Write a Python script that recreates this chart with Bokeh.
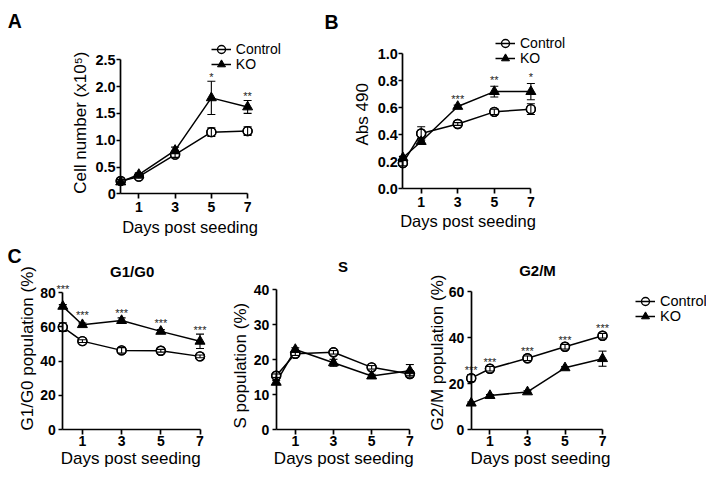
import math
from bokeh.plotting import figure
from bokeh.models import (Range1d, FixedTicker, ColumnDataSource, Whisker, TeeHead,
                          Legend, LegendItem, Label)
from bokeh.layouts import row, column
from bokeh.core.properties import value
from bokeh.embed import file_html
from bokeh.resources import INLINE

FONT = "Liberation Sans"

# ---------------- data ----------------
days = [0, 1, 3, 5, 7]
x_ticks = [1, 3, 5, 7]
x_label = "Days post seeding"
legend_labels = ["Control", "KO"]

# Panel A : cell number (x10^5)
a_ctrl = [0.24, 0.32, 0.73, 1.15, 1.17]
a_ctrl_err = [0.03, 0.03, 0.05, 0.08, 0.08]
a_ko = [0.22, 0.36, 0.81, 1.79, 1.62]
a_ko_err = [0.02, 0.03, 0.06, 0.31, 0.12]
a_stars = ["", "", "", "*", "**"]
a_star_y = [0, 0, 0, 2.2, 1.84]
a_yticks = [0, 0.5, 1, 1.5, 2, 2.5]
a_ylabels = ["0", "0.5", "1.0", "1.5", "2.0", "2.5"]
a_ytitle = "Cell number (x10\u2075)"

# Panel B : Abs 490
b_ctrl = [0.19, 0.41, 0.48, 0.57, 0.59]
b_ctrl_err = [0.02, 0.05, 0.01, 0.02, 0.04]
b_ko = [0.23, 0.35, 0.61, 0.72, 0.72]
b_ko_err = [0.01, 0.02, 0.01, 0.04, 0.06]
b_stars = ["", "", "***", "**", "*"]
b_star_y = [0, 0, 0.676, 0.815, 0.834]
b_yticks = [0, 0.2, 0.4, 0.6, 0.8, 1.0]
b_ylabels = ["0.0", "0.2", "0.4", "0.6", "0.8", "1.0"]
b_ytitle = "Abs 490"

# Panel C1 : G1/G0
g1_ctrl = [59.8, 51.6, 46.2, 46.0, 42.7]
g1_ctrl_err = [2.5, 0.8, 1.6, 0.8, 0.8]
g1_ko = [71.9, 61.2, 63.6, 57.3, 51.5]
g1_ko_err = [1.0, 1.0, 1.6, 1.0, 4.2]
g1_stars = ["***", "***", "***", "***", "***"]
g1_star_y = [82.9, 67.7, 68.9, 62.7, 58.8]
g1_yticks = [0, 20, 40, 60, 80]
g1_ylabels = ["0", "20", "40", "60", "80"]
g1_ytitle = "G1/G0 population (%)"
g1_head = "G1/G0"

# Panel C2 : S
s_ctrl = [15.4, 21.7, 22.1, 17.8, 15.9]
s_ctrl_err = [0.5, 0.5, 0.5, 0.5, 0.5]
s_ko = [13.5, 22.9, 19.1, 15.3, 16.8]
s_ko_err = [0.5, 0.5, 1.0, 0.5, 1.8]
s_stars = ["", "", "", "", ""]
s_star_y = [0, 0, 0, 0, 0]
s_yticks = [0, 10, 20, 30, 40]
s_ylabels = ["0", "10", "20", "30", "40"]
s_ytitle = "S population (%)"
s_head = "S"

# Panel C3 : G2/M
g2_ctrl = [22.4, 26.5, 31.1, 36.1, 40.9]
g2_ctrl_err = [1.5, 1.0, 1.0, 1.0, 1.0]
g2_ko = [11.5, 14.8, 16.4, 26.9, 30.9]
g2_ko_err = [0.5, 0.5, 0.5, 0.5, 3.3]
g2_stars = ["***", "***", "***", "***", "***"]
g2_star_y = [26.5, 30.1, 34.9, 39.6, 44.6]
g2_yticks = [0, 20, 40, 60]
g2_ylabels = ["0", "20", "40", "60"]
g2_ytitle = "G2/M population (%)"
g2_head = "G2/M"


class Panel:
    """geo: canvas left, canvas top, width, height (page px), axis origin (px), px/day, px/unit"""

    def __init__(self, geo, sty):
        cl, ct, w, h, ax, ay, ppd, ppu = geo
        self.cl, self.ct, self.w, self.h = cl, ct, w, h
        x0 = -(ax - cl) / ppd
        y0 = -(ct + h - ay) / ppu
        self.sty = sty
        p = figure(frame_width=w, frame_height=h, min_border=0,
                   min_border_left=0, min_border_right=0, min_border_top=0, min_border_bottom=0,
                   x_range=Range1d(x0, x0 + w / ppd), y_range=Range1d(y0, y0 + h / ppu),
                   toolbar_location=None, output_backend="svg", title=None)
        p.xgrid.visible = False
        p.ygrid.visible = False
        p.outline_line_color = None
        p.background_fill_color = "white"
        p.border_fill_color = "white"
        self.p = p

    def sx(self, px):
        return px - self.cl

    def sy(self, py):
        return self.ct + self.h - py

    def label(self, text, px, py, size, bold=False, align="left", baseline="alphabetic", angle=0.0):
        self.p.add_layout(Label(x=self.sx(px), y=self.sy(py), x_units="screen", y_units="screen",
                                text=text, angle=angle, text_font=FONT, text_font_size=size,
                                text_font_style="bold" if bold else "normal",
                                text_align=align, text_baseline=baseline, text_color="black"))

    def draw(self, ctrl, ctrl_err, ko, ko_err, stars, star_y, yticks, ylabels):
        p, sty = self.p, self.sty
        xa = p.xaxis[0]
        xa.ticker = FixedTicker(ticks=x_ticks)
        xa.bounds = (0, 7)
        xa.fixed_location = 0
        ya = p.yaxis[0]
        ya.ticker = FixedTicker(ticks=yticks)
        ya.bounds = (0, yticks[-1])
        ya.fixed_location = 0
        ya.major_label_overrides = {t: l for t, l in zip(yticks, ylabels)}
        for ax in (xa, ya):
            ax.axis_line_width = 1.7
            ax.axis_line_color = "black"
            ax.major_tick_line_width = 1.7
            ax.major_tick_line_color = "black"
            ax.major_tick_in = 0
            ax.minor_tick_out = 0
            ax.minor_tick_in = 0
            ax.major_label_text_font = FONT
            ax.major_label_text_font_style = "bold"
            ax.major_label_text_color = "black"
        xa.major_tick_out = 5
        ya.major_tick_out = 4
        xa.major_label_text_font_size = sty["xtick"]
        ya.major_label_text_font_size = sty["ytick"]
        xa.major_label_standoff = sty["xls"]
        ya.major_label_standoff = sty["yls"]

        src = ColumnDataSource(dict(
            x=days, c=ctrl, k=ko,
            cl=[v - e for v, e in zip(ctrl, ctrl_err)], cu=[v + e for v, e in zip(ctrl, ctrl_err)],
            kl=[v - e for v, e in zip(ko, ko_err)], ku=[v + e for v, e in zip(ko, ko_err)],
            sy=star_y, st=stars))

        lc = p.line("x", "c", source=src, line_width=1.5, line_color="black")
        lk = p.line("x", "k", source=src, line_width=1.5, line_color="black")
        p.scatter("x", "c", source=src, marker="circle", size=9, fill_color="white",
                  line_color="black", line_width=1.4)
        sk = p.scatter("x", "k", source=src, marker="triangle", size=10, fill_color="black",
                       line_color="black", line_width=1)
        # same open circles again, unfilled, so the legend shows the line through the circle
        lcirc = p.scatter("x", "c", source=src, marker="circle", size=9, fill_color=None,
                          line_color="black", line_width=1.4)
        for lo, up in (("cl", "cu"), ("kl", "ku")):
            w = Whisker(source=src, base="x", lower=lo, upper=up, dimension="height",
                        line_color="black", line_width=1.1, level="overlay",
                        upper_head=TeeHead(size=8, line_color="black", line_width=1.1),
                        lower_head=TeeHead(size=8, line_color="black", line_width=1.1))
            p.add_layout(w)
        p.text("x", "sy", text="st", source=src, text_align="center", text_baseline="middle",
               y_offset=1, text_font=value(FONT), text_font_size="11px", text_color="#222222")
        self.rc = (lc, lcirc)
        self.rk = (lk, sk)

    def legends(self, gx, gy1, gy2, fs):
        # gx: left of glyph box, gy*: bottom of each row (page px)
        for lab, rends, gy in ((legend_labels[0], self.rc, gy1), (legend_labels[1], self.rk, gy2)):
            leg = Legend(items=[LegendItem(label=lab, renderers=list(rends))],
                         location=(self.sx(gx), self.sy(gy)),
                         glyph_width=20, glyph_height=20, label_height=20, label_standoff=5,
                         padding=0, margin=0, spacing=0, border_line_color=None,
                         background_fill_alpha=0, label_text_font=FONT,
                         label_text_font_size=fs, label_text_color="black",
                         label_text_baseline="middle")
            self.p.add_layout(leg, "center")


top = dict(xtick="14px", ytick="14.5px", xls=3, yls=1)
bot = dict(xtick="14px", ytick="14px", xls=1, yls=3)

# ---- A ----
A = Panel((0, 0, 320, 236, 120.2, 193.3, 18.13, 53.6), top)
A.draw(a_ctrl, a_ctrl_err, a_ko, a_ko_err, a_stars, a_star_y, a_yticks, a_ylabels)
A.legends(210.8, 59, 74, "14px")
A.label("A", 7.3, 20.7, "19.5px", bold=True)
A.label(a_ytitle, 80, 193.3, "17px", baseline="middle", angle=math.pi / 2)
A.label(x_label, 189.5, 226, "16.5px", align="center")

# ---- B ----
B = Panel((320, 0, 263, 236, 402.4, 188.3, 18.28, 135.0), top)
B.draw(b_ctrl, b_ctrl_err, b_ko, b_ko_err, b_stars, b_star_y, b_yticks, b_ylabels)
B.legends(495, 53.3, 68.3, "14px")
B.label("B", 324, 21.7, "19.5px", bold=True)
B.label(b_ytitle, 361.5, 145, "17px", baseline="middle", angle=math.pi / 2)
B.label(x_label, 467.5, 220.7, "16.5px", align="center")

# ---- C : G1/G0 ----
G1 = Panel((0, 236, 230, 234, 62.3, 429, 19.6, 1.7125), bot)
G1.draw(g1_ctrl, g1_ctrl_err, g1_ko, g1_ko_err, g1_stars, g1_star_y, g1_yticks, g1_ylabels)
G1.label("C", 7, 255.3, "19.5px", bold=True)
G1.label(g1_head, 131.7, 270.7, "15px", bold=True, align="center")
G1.label(g1_ytitle, 26.5, 430, "17px", baseline="middle", angle=math.pi / 2)
G1.label(x_label, 130.2, 458.3, "17px", align="center")

# ---- C : S ----
S = Panel((230, 236, 199, 234, 275.7, 429, 19.09, 3.4925), bot)
S.draw(s_ctrl, s_ctrl_err, s_ko, s_ko_err, s_stars, s_star_y, s_yticks, s_ylabels)
S.label(s_head, 342.5, 266, "15px", bold=True, align="center")
S.label(s_ytitle, 240, 428, "17px", baseline="middle", angle=math.pi / 2)
S.label(x_label, 343.3, 458.3, "17px", align="center")

# ---- C : G2/M ----
G2 = Panel((429, 236, 277, 234, 470.7, 429, 18.76, 2.2917), bot)
G2.draw(g2_ctrl, g2_ctrl_err, g2_ko, g2_ko_err, g2_stars, g2_star_y, g2_yticks, g2_ylabels)
G2.legends(635, 310.7, 326, "14.5px")
G2.label(g2_head, 537, 270, "15px", bold=True, align="center")
G2.label(g2_ytitle, 437, 430, "17px", baseline="middle", angle=math.pi / 2)
G2.label(x_label, 540, 458.3, "17px", align="center")

layout = column(row(A.p, B.p), row(G1.p, S.p, G2.p))

open("out.html", "w").write(file_html(layout, INLINE))
